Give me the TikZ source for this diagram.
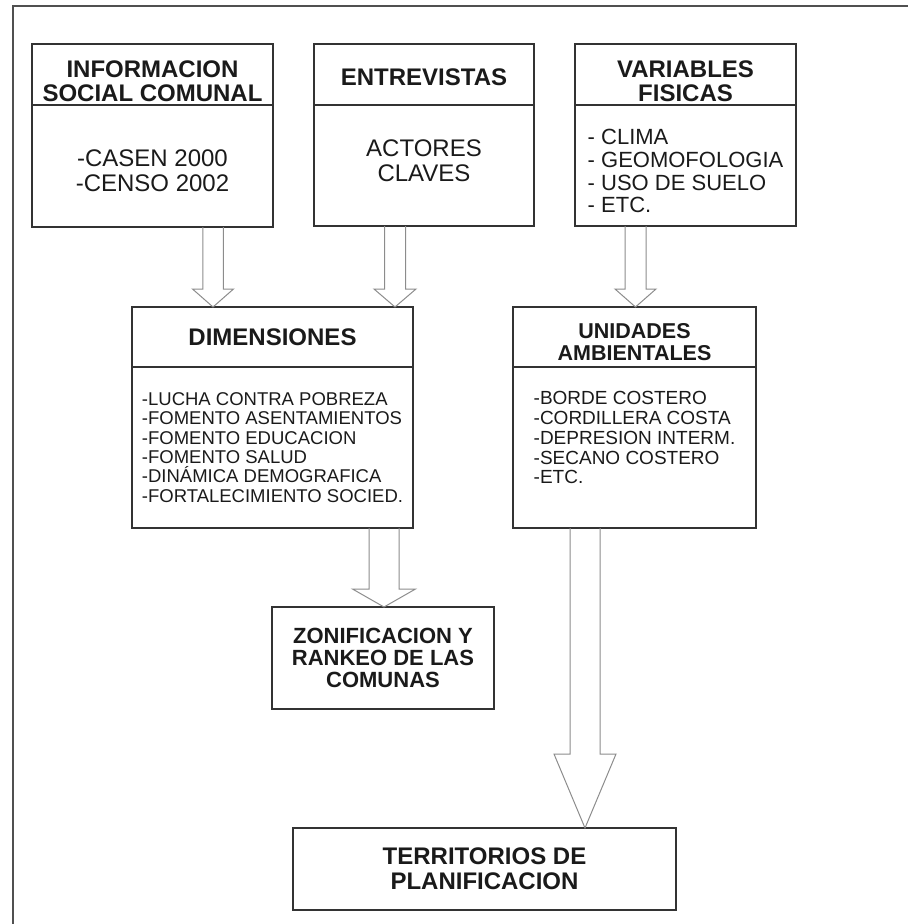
\documentclass[tikz,border=0pt]{standalone}
\usepackage{fontspec}
\setmainfont{Liberation Sans}
\usetikzlibrary{positioning}
\definecolor{boxline}{HTML}{333333}
\definecolor{arrowline}{HTML}{8C8C8C}
\definecolor{frameline}{HTML}{505050}
\definecolor{txt}{HTML}{1A1A1A}

\begin{document}
\begin{tikzpicture}[
            x=1pt, y=-1pt,
            base/.style = {rectangle, draw=boxline, line width=1.3pt, outer sep=0pt, inner sep=0pt, text=txt, align=center},
            boxhead/.style = {base, font=\bfseries\fontsize{24}{24}\selectfont},
            boxbody/.style = {base, font=\fontsize{24}{24.5}\selectfont},
            listbody/.style = {base, align=left},
            frame/.style = {draw=frameline, line width=1.6pt},
            blockarrow/.style n args = {3}{draw=arrowline, line width=1pt, to path={
                ([xshift=-#1]\tikztostart) -- ([xshift=-#1, yshift=#3]\tikztotarget)
                -- ([xshift=-#2, yshift=#3]\tikztotarget) -- (\tikztotarget)
                -- ([xshift=#2, yshift=#3]\tikztotarget) -- ([xshift=#1, yshift=#3]\tikztotarget)
                -- ([xshift=#1]\tikztostart)}}
        ]

            \useasboundingbox (0,0) rectangle (908,924);

            % --- 1. Frame ---
            \draw [frame] (13,924) -- (13,6) -- (908,6);

            % --- 2. Sources ---
            % the struts push the text a little lower, as in the original
            \node [boxhead, minimum width=241pt, minimum height=61pt] (infohead) at (152.5,74.5) {\rule{0pt}{30pt}INFORMACION\\SOCIAL COMUNAL};
            \node [boxbody, minimum width=241pt, minimum height=122pt, below=0pt of infohead] (infobody) {\rule{0pt}{26.5pt}-CASEN 2000\\-CENSO 2002};

            \node [boxhead, minimum width=220pt, minimum height=61pt] (entrhead) at (424,74.5) {\rule{0pt}{21.5pt}ENTREVISTAS};
            \node [boxbody, minimum width=220pt, minimum height=121pt, below=0pt of entrhead] (entrbody) {ACTORES\\CLAVES\rule[-10pt]{0pt}{10pt}};

            \node [boxhead, minimum width=221pt, minimum height=61pt] (varhead) at (685.5,74.5) {\rule{0pt}{30pt}VARIABLES\\FISICAS};
            \node [listbody, font=\fontsize{22}{22.6}\selectfont, minimum width=221pt, minimum height=121pt, below=0pt of varhead] (varbody)
                {\rule{0pt}{27pt}- CLIMA\\- GEOMOFOLOGIA\\- USO DE SUELO\\- ETC.};

            % --- 3. Middle row ---
            \node [boxhead, minimum width=281pt, minimum height=60pt] (dimhead) at (272.5,337) {DIMENSIONES};
            \node [listbody, font=\fontsize{18.5}{19.3}\selectfont, minimum width=281pt, minimum height=161pt, below=0pt of dimhead] (dimbody)
                {-LUCHA CONTRA POBREZA\\-FOMENTO ASENTAMIENTOS\\-FOMENTO EDUCACION\\-FOMENTO SALUD\\-DINÁMICA DEMOGRAFICA\\-FORTALECIMIENTO SOCIED.};

            \node [boxhead, font=\bfseries\fontsize{21.5}{22}\selectfont, minimum width=243pt, minimum height=60pt] (unihead) at (634.5,337) {\rule{0pt}{24.5pt}UNIDADES\\AMBIENTALES};
            \node [listbody, font=\fontsize{19}{19.8}\selectfont, minimum width=243pt, minimum height=161pt, below=0pt of unihead] (unibody)
                {-BORDE COSTERO\\-CORDILLERA COSTA\\-DEPRESION INTERM.\\-SECANO COSTERO\\-ETC.\\~};

            % --- 4. Results ---
            \node [boxhead, font=\bfseries\fontsize{22}{22}\selectfont, minimum width=222pt, minimum height=102pt] (zonif) at (383,658) {ZONIFICACION Y\\RANKEO DE LAS\\COMUNAS};
            \node [boxhead, font=\bfseries\fontsize{24}{25}\selectfont, minimum width=383pt, minimum height=82pt] (terr) at (484.5,869) {TERRITORIOS DE\\PLANIFICACION};

            % --- 5. Hollow arrows ---
            \coordinate (a1top) at (213,0 |- infobody.south);
            \coordinate (a1tip) at (213,0 |- dimhead.north);
            \draw [blockarrow={10.25pt}{20.5pt}{18pt}] (a1top) to (a1tip);

            \coordinate (a2top) at (395,0 |- entrbody.south);
            \coordinate (a2tip) at (395,0 |- dimhead.north);
            \draw [blockarrow={10.5pt}{21pt}{18pt}] (a2top) to (a2tip);

            \coordinate (a3top) at (635.5,0 |- varbody.south);
            \coordinate (a3tip) at (635.5,0 |- unihead.north);
            \draw [blockarrow={10.5pt}{20.5pt}{18pt}] (a3top) to (a3tip);

            \coordinate (a4top) at (384,0 |- dimbody.south);
            \coordinate (a4tip) at (384,0 |- zonif.north);
            \draw [blockarrow={15pt}{31.5pt}{18pt}] (a4top) to (a4tip);

            \coordinate (a5top) at (585,0 |- unibody.south);
            \coordinate (a5tip) at (585,0 |- terr.north);
            \draw [blockarrow={15pt}{31pt}{74pt}] (a5top) to (a5tip);

        \end{tikzpicture}
\end{document}
